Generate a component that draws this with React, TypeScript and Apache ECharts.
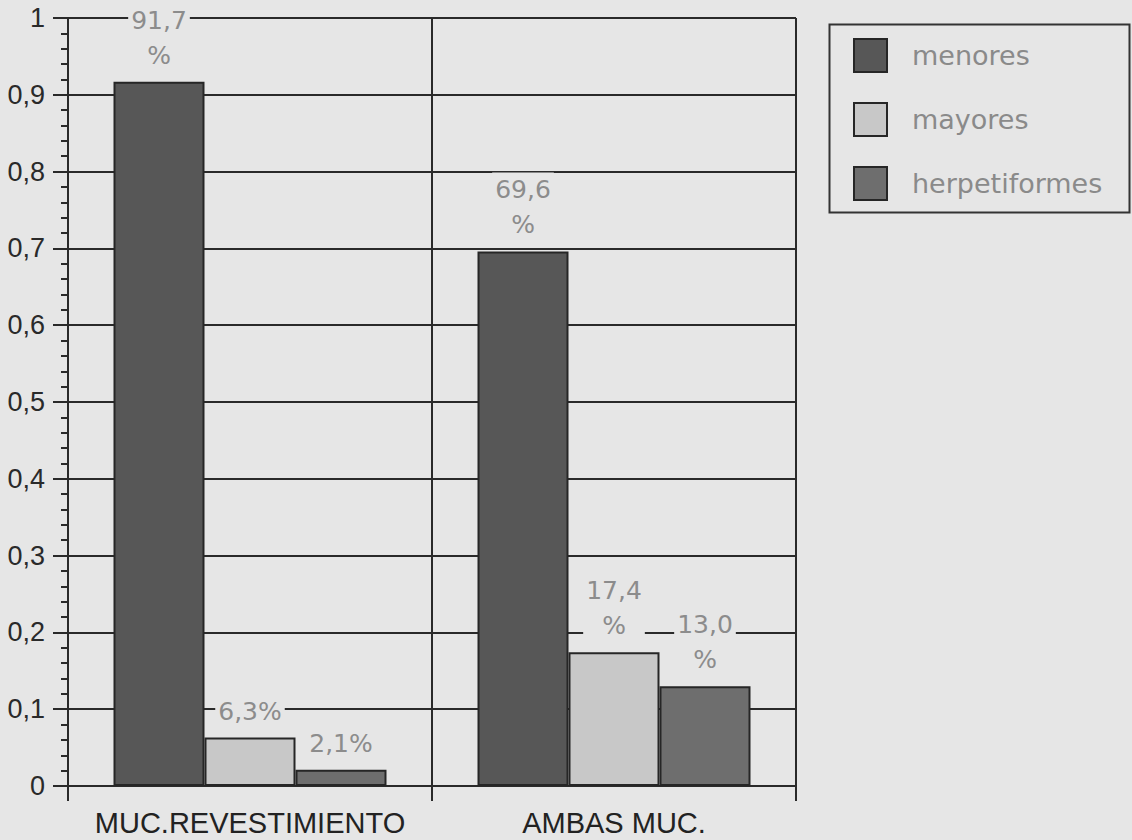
import { useEffect, useRef } from 'react';
import * as echarts from 'echarts';

// Categories on the x axis
const categories = ['MUC.REVESTIMIENTO', 'AMBAS MUC.'];
// Series (share of cases, 0..1)
const seriesNames = ['menores', 'mayores', 'herpetiformes'];
const menores = [0.917, 0.696];
const mayores = [0.063, 0.174];
const herpetiformes = [0.021, 0.13];
const seriesColors = ['#575757', '#c8c8c8', '#6e6e6e'];

const BG = '#e6e6e6';
const FONT = '"Liberation Sans", Arial, Helvetica, sans-serif';
const LABEL_FONT = '"DejaVu Sans", "Liberation Sans", sans-serif';

const fmtPct = (v: number) => {
  const pct = (v * 100).toFixed(1).replace('.', ',');
  return v >= 0.1 ? `${pct}\n%` : `${pct}%`;
};

export default function App() {
  const ref = useRef<HTMLDivElement>(null);

  useEffect(() => {
    if (!ref.current) return;
    const chart = echarts.init(ref.current, null, { renderer: 'svg' });
    const values = [menores, mayores, herpetiformes];

    chart.setOption({
      animation: false,
      backgroundColor: BG,
      textStyle: { fontFamily: FONT },
      grid: { left: 68, top: 18, right: 336, bottom: 54, containLabel: false },
      legend: {
        orient: 'vertical',
        left: 853,
        top: 38,
        padding: 0,
        itemWidth: 33,
        itemHeight: 33,
        itemGap: 29,
        icon: 'rect',
        data: seriesNames,
        textStyle: {
          fontFamily: LABEL_FONT,
          fontSize: 27,
          lineHeight: 33,
          color: '#8a8a8a',
          padding: [0, 0, 0, 20],
        },
      },
      graphic: [
        {
          type: 'rect',
          left: 827,
          top: 22,
          shape: { width: 300, height: 188 },
          style: { fill: 'none', stroke: '#333', lineWidth: 2 },
          silent: true,
        },
      ],
      xAxis: {
        type: 'category',
        data: categories,
        boundaryGap: true,
        axisLine: { show: true, lineStyle: { color: '#2a2a2a', width: 2 } },
        axisTick: { show: true, length: 15, lineStyle: { color: '#2a2a2a', width: 2 } },
        splitLine: { show: true, lineStyle: { color: '#2a2a2a', width: 2 } },
        axisLabel: {
          interval: 0,
          hideOverlap: false,
          fontFamily: FONT,
          fontSize: 29,
          color: '#222',
          margin: 22,
        },
      },
      yAxis: {
        type: 'value',
        min: 0,
        max: 1,
        interval: 0.1,
        axisLine: { show: true, lineStyle: { color: '#2a2a2a', width: 2 } },
        axisTick: { show: true, length: 15, lineStyle: { color: '#2a2a2a', width: 2 } },
        minorTick: { show: true, splitNumber: 5, length: 7, lineStyle: { color: '#2a2a2a', width: 2 } },
        splitLine: { show: true, lineStyle: { color: '#2a2a2a', width: 2 } },
        axisLabel: {
          fontFamily: FONT,
          fontSize: 27,
          color: '#2a2a2a',
          margin: 23,
          formatter: (v: number) => String(Number(v.toFixed(1))).replace('.', ','),
        },
      },
      series: seriesNames.map((name, i) => ({
        name,
        type: 'bar',
        data: values[i],
        barWidth: '25%',
        barGap: '0%',
        itemStyle: { color: seriesColors[i], borderColor: '#262626', borderWidth: 2 },
        label: {
          show: true,
          position: 'top',
          distance: 9,
          fontFamily: LABEL_FONT,
          fontSize: 25,
          lineHeight: 35,
          color: '#8c8c8c',
          backgroundColor: BG,
          padding: [0, 3],
          formatter: (p: any) => fmtPct(p.value),
        },
      })),
    });

    return () => chart.dispose();
  }, []);

  return (
    <div
      ref={ref}
      style={{ position: 'absolute', left: 0, top: 0, width: 1132, height: 840 }}
    />
  );
}
